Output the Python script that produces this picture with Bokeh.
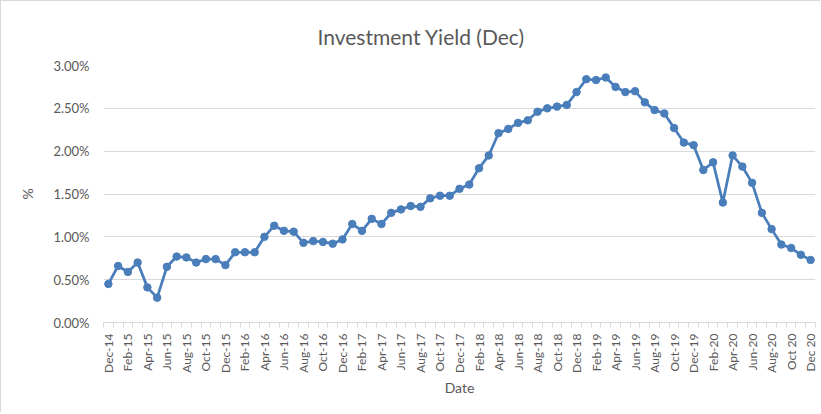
import math
from bokeh.plotting import figure
from bokeh.models import (FixedTicker, NumeralTickFormatter, Range1d,
                          ColumnDataSource)
from bokeh.embed import file_html
from bokeh.resources import INLINE

# Monthly yield (%), Dec-14 .. Dec-20
yield_pct = [
    0.45, 0.66, 0.59, 0.70, 0.41, 0.29, 0.65, 0.77, 0.76, 0.70, 0.74, 0.74,
    0.67, 0.82, 0.82, 0.82, 1.00, 1.13, 1.07, 1.06, 0.93, 0.95, 0.94, 0.92,
    0.97, 1.15, 1.07, 1.21, 1.15, 1.28, 1.32, 1.36, 1.35, 1.45, 1.48, 1.48,
    1.56, 1.61, 1.80, 1.95, 2.21, 2.26, 2.33, 2.36, 2.46, 2.50, 2.52, 2.54,
    2.69, 2.84, 2.83, 2.86, 2.75, 2.69, 2.70, 2.57, 2.48, 2.44, 2.27, 2.10,
    2.07, 1.78, 1.87, 1.40, 1.95, 1.82, 1.63, 1.28, 1.09, 0.91, 0.87, 0.79,
    0.73,
]

# Category labels shown every second month
tick_labels = [
    "Dec-14", "Feb-15", "Apr-15", "Jun-15", "Aug-15", "Oct-15", "Dec-15",
    "Feb-16", "Apr-16", "Jun-16", "Aug-16", "Oct-16", "Dec-16",
    "Feb-17", "Apr-17", "Jun-17", "Aug-17", "Oct-17", "Dec-17",
    "Feb-18", "Apr-18", "Jun-18", "Aug-18", "Oct-18", "Dec-18",
    "Feb-19", "Apr-19", "Jun-19", "Aug-19", "Oct-19", "Dec-19",
    "Feb-20", "Apr-20", "Jun-20", "Aug-20", "Oct 20", "Dec 20",
]

y_ticks = [0.0, 0.005, 0.01, 0.015, 0.02, 0.025, 0.03]

n = len(yield_pct)
idx = list(range(n))
src = ColumnDataSource(dict(x=idx, y=[v / 100 for v in yield_pct]))

FONT = "Lato"
GREY = "#595959"
LINE = "#4a7ebb"

p = figure(width=820, height=412, output_backend="svg", toolbar_location=None,
           x_range=Range1d(-0.5, n - 0.5), y_range=Range1d(0, 0.03),
           min_border_left=102, min_border_right=6, min_border_top=64,
           min_border_bottom=91,
           title="Investment Yield (Dec)")
p.styles = {"border-left": "1px solid #d9d9d9", "border-top": "1px solid #d9d9d9"}
p.outline_line_color = None
p.background_fill_color = "white"
p.border_fill_color = "white"

p.title.align = "left"
p.title.offset = 214
p.title.text_font = FONT
p.title.text_font_size = "21px"
p.title.text_font_style = "normal"
p.title.text_color = GREY
p.title.vertical_align = "bottom"
p.title.standoff = 34

p.line("x", "y", source=src, line_color=LINE, line_width=2.75)
p.scatter("x", "y", source=src, size=7.5, fill_color=LINE, line_color=LINE)

# x axis
major = list(range(0, n, 2))
p.xaxis.ticker = FixedTicker(ticks=major,
                             minor_ticks=[i - 0.5 for i in range(n + 1)])
p.xaxis.major_label_overrides = {i: lab for i, lab in zip(major, tick_labels)}
p.xaxis.major_label_orientation = math.pi / 2
p.xaxis.major_tick_line_color = None
p.xaxis.major_tick_out = 0
p.xaxis.major_tick_in = 0
p.xaxis.minor_tick_line_color = "#d9d9d9"
p.xaxis.minor_tick_out = 5
p.xaxis.minor_tick_in = 0
p.xaxis.axis_line_color = "#d9d9d9"
p.xaxis.major_label_standoff = 6
p.xaxis.major_label_text_font = FONT
p.xaxis.major_label_text_font_size = "12px"
p.xaxis.major_label_text_color = GREY
p.xaxis.axis_label = "Date"
p.xaxis.axis_label_text_font = FONT
p.xaxis.axis_label_text_font_size = "14px"
p.xaxis.axis_label_text_font_style = "normal"
p.xaxis.axis_label_text_color = GREY
p.xaxis.axis_label_standoff = 3

# y axis
p.yaxis.ticker = FixedTicker(ticks=y_ticks)
p.yaxis.formatter = NumeralTickFormatter(format="0.00%")
p.yaxis.axis_line_color = None
p.yaxis.major_tick_line_color = None
p.yaxis.minor_tick_line_color = None
p.yaxis.major_tick_out = 0
p.yaxis.major_tick_in = 0
p.yaxis.major_label_standoff = 14
p.yaxis.major_label_text_font = FONT
p.yaxis.major_label_text_font_size = "13px"
p.yaxis.major_label_text_color = GREY
p.yaxis.axis_label = "%"
p.yaxis.axis_label_text_font = FONT
p.yaxis.axis_label_text_font_size = "14px"
p.yaxis.axis_label_text_font_style = "normal"
p.yaxis.axis_label_text_color = GREY
p.yaxis.axis_label_standoff = 14

p.xgrid.grid_line_color = None
p.ygrid.ticker = FixedTicker(ticks=y_ticks)
p.ygrid.grid_line_color = "#d9d9d9"
p.ygrid.grid_line_width = 1

open("out.html", "w").write(file_html(p, INLINE))
